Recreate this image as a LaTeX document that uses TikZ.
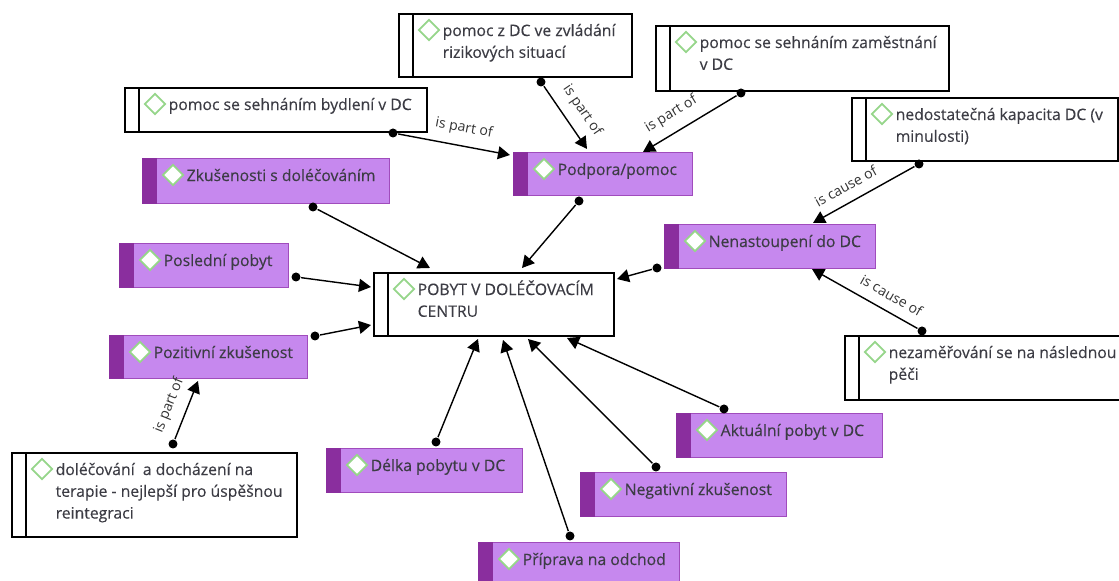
\documentclass[tikz,border=0pt]{standalone}
\usepackage{fontspec}
\setmainfont{Open Sans}
\newfontfamily\tucne[FakeBold=0.25]{Open Sans}
\usetikzlibrary{shapes.geometric, positioning}
\usetikzlibrary{arrows.meta}
\usetikzlibrary{calc}

\definecolor{fialova}{HTML}{C688EE}
\definecolor{tmava}{HTML}{8A2E9E}
\definecolor{okraj}{HTML}{A04CBC}
\definecolor{zelena}{HTML}{96D68A}
\definecolor{pismo}{HTML}{3C3C44}

\tikzset{
    fial/.style = {draw=okraj, fill=fialova, line width=0.35pt},
    fialpruh/.style = {draw=tmava, fill=tmava, line width=0.2pt},
    bily/.style = {draw=black, fill=white, line width=0.45pt},
    bilypruh/.style = {draw=black, fill=white, line width=0.45pt},
    kosoctverec/.style = {diamond, draw=zelena, fill=white, line width=0.5pt, minimum width=0.21cm, minimum height=0.21cm, inner sep=0pt},
    popis/.style = {text=pismo, inner sep=0pt, align=left, anchor=north west, font=\tucne\fontsize{4.48}{6.2}\selectfont},
    tecka/.style = {circle, fill=black, minimum size=0.09cm, inner sep=0pt},
    spoj/.style = {-{Triangle[length=0.12cm, width=0.13cm]}, line width=0.4pt},
    vztah/.style = {text=black!80, inner sep=0pt, font=\fontsize{4}{4.5}\selectfont},
}

% name, style, x, y, width, height, text
\newcommand{\kod}[7]{
    \node[#2, anchor=north west, minimum width=#5cm, minimum height=#6cm, inner sep=0pt] (#1) at (#3,#4) {};
    \node[#2pruh, anchor=north west, minimum width=0.14cm, minimum height=#6cm, inner sep=0pt] (#1p) at (#1.north west) {};
    \node[kosoctverec] (#1k) at ($(#1.north west)+(0.31,-0.17)$) {};
    \node[popis] (#1t) at ($(#1.north west)+(0.44,-0.065)$) {\rule{0pt}{4.5pt}#7};
}

\begin{document}
\begin{tikzpicture}
    \useasboundingbox (0,0) rectangle (11.19,-5.81);

    \kod{centrum}{bily}{3.73}{-2.72}{2.40}{0.63}{POBYT V DOLÉČOVACÍM\\CENTRU}
    \kod{situace}{bily}{3.98}{-0.13}{2.33}{0.63}{pomoc z DC ve zvládání\\rizikových situací}
    \kod{zamest}{bily}{6.55}{-0.25}{2.93}{0.65}{pomoc se sehnáním zaměstnání\\v DC}
    \kod{bydleni}{bily}{1.24}{-0.87}{3.02}{0.44}{pomoc se sehnáním bydlení v DC}
    \kod{kapacita}{bily}{8.51}{-0.97}{2.66}{0.63}{nedostatečná kapacita DC (v\\minulosti)}
    \kod{pece}{bily}{8.44}{-3.35}{2.80}{0.64}{nezaměřování se na následnou\\pěči}
    \kod{terapie}{bily}{0.11}{-4.52}{2.85}{0.84}{doléčování\ \ a docházení na\\terapie - nejlepší pro úspěšnou\\reintegraci}

    \kod{podpora}{fial}{5.13}{-1.52}{1.79}{0.43}{Podpora/pomoc}
    \kod{zkusenosti}{fial}{1.42}{-1.58}{2.47}{0.45}{Zkušenosti s doléčováním}
    \kod{posledni}{fial}{1.19}{-2.43}{1.69}{0.44}{Poslední pobyt}
    \kod{pozitivni}{fial}{1.09}{-3.35}{1.98}{0.43}{Pozitivní zkušenost}
    \kod{nenast}{fial}{6.64}{-2.24}{2.11}{0.44}{Nenastoupení do DC}
    \kod{delka}{fial}{3.26}{-4.48}{1.96}{0.44}{Délka pobytu v DC}
    \kod{aktualni}{fial}{6.76}{-4.13}{2.06}{0.44}{Aktuální pobyt v DC}
    \kod{negativni}{fial}{5.80}{-4.72}{2.06}{0.44}{Negativní zkušenost}
    \kod{priprava}{fial}{4.78}{-5.42}{2.01}{0.44}{Příprava na odchod}

    \node[tecka] (dbydleni) at (3.93,-1.33) {};
    \node[tecka] (dsituace) at (5.41,-0.82) {};
    \node[tecka] (dzamest) at (7.41,-0.93) {};
    \node[tecka] (dzkusenosti) at (3.13,-2.07) {};
    \node[tecka] (dpodpora) at (5.79,-2.01) {};
    \node[tecka] (dposledni) at (2.96,-2.77) {};
    \node[tecka] (dpozitivni) at (3.15,-3.36) {};
    \node[tecka] (dnenast) at (6.57,-2.68) {};
    \node[tecka] (dkapacita) at (9.19,-1.64) {};
    \node[tecka] (dpece) at (9.22,-3.31) {};
    \node[tecka] (dterapie) at (1.73,-4.44) {};
    \node[tecka] (ddelka) at (4.36,-4.42) {};
    \node[tecka] (daktualni) at (7.24,-4.09) {};
    \node[tecka] (dnegativni) at (6.56,-4.67) {};
    \node[tecka] (dpriprava) at (5.70,-5.36) {};

    \coordinate (pvlevo) at (5.10,-1.55);
    \coordinate (pnahore) at (5.87,-1.49);
    \coordinate (pvpravo) at (6.43,-1.52);
    \coordinate (c1) at (4.30,-2.68);
    \coordinate (c2) at (5.22,-2.68);
    \coordinate (c3) at (3.71,-2.87);
    \coordinate (c4) at (3.71,-3.25);
    \coordinate (c5) at (6.17,-2.79);
    \coordinate (nnahore) at (8.13,-2.23);
    \coordinate (ndole) at (8.12,-2.69);
    \coordinate (pzdola) at (1.98,-3.81);
    \coordinate (c6) at (4.78,-3.39);
    \coordinate (c7) at (5.67,-3.38);
    \coordinate (c8) at (5.28,-3.39);
    \coordinate (c9) at (5.03,-3.40);

    \draw[spoj] (dbydleni) -- (pvlevo) node[vztah, pos=0.56, sloped, above=0.1cm]{is part of};
    \draw[spoj] (dsituace) -- (pnahore) node[vztah, pos=0.55, sloped, above=0.1cm]{is part of};
    \draw[spoj] (dzamest) -- (pvpravo) node[vztah, pos=0.6, sloped, above=0.1cm]{is part of};
    \draw[spoj] (dzkusenosti) -- (c1);
    \draw[spoj] (dpodpora) -- (c2);
    \draw[spoj] (dposledni) -- (c3);
    \draw[spoj] (dpozitivni) -- (c4);
    \draw[spoj] (dnenast) -- (c5);
    \draw[spoj] (dkapacita) -- (nnahore) node[vztah, pos=0.6, sloped, above=0.1cm]{is cause of};
    \draw[spoj] (dpece) -- (ndole) node[vztah, pos=0.32, sloped, above=0.1cm]{is cause of};
    \draw[spoj] (dterapie) -- (pzdola) node[vztah, pos=0.47, sloped, above=0.1cm]{is part of};
    \draw[spoj] (ddelka) -- (c6);
    \draw[spoj] (daktualni) -- (c7);
    \draw[spoj] (dnegativni) -- (c8);
    \draw[spoj] (dpriprava) -- (c9);

\end{tikzpicture}
\end{document}
